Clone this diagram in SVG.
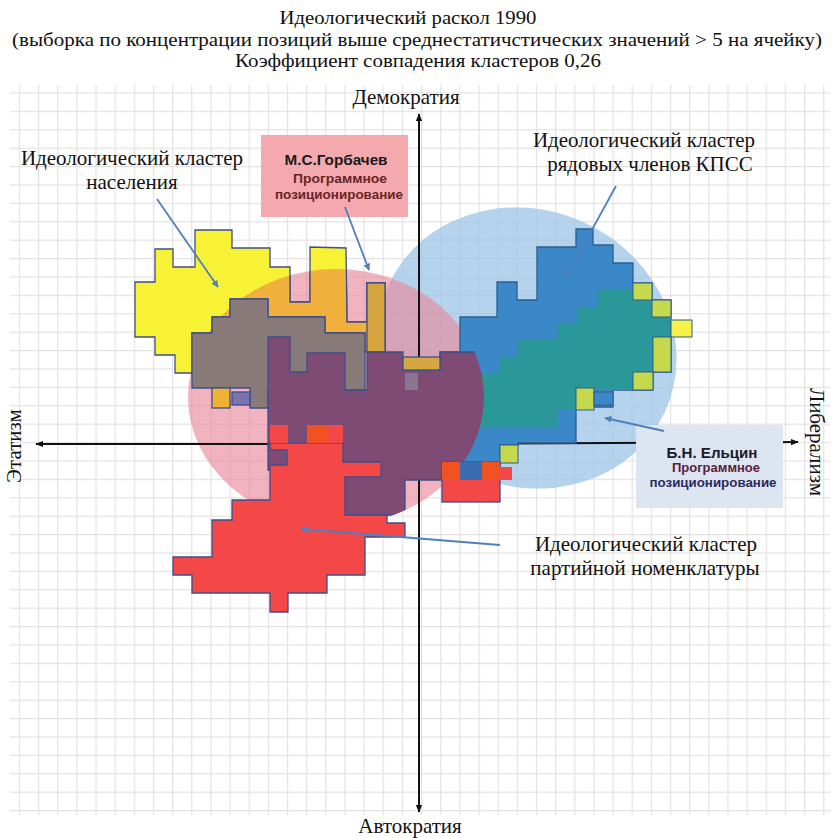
<svg xmlns="http://www.w3.org/2000/svg" width="833" height="838" viewBox="0 0 833 838">
<style>
.t{font-family:"Liberation Serif","Times New Roman",serif;fill:#111;font-size:21px;text-anchor:middle}
.tt{font-family:"Liberation Serif","Times New Roman",serif;fill:#111;font-size:19px;text-anchor:middle}
.cl{stroke:#3f4f86;stroke-width:1.3;stroke-linejoin:miter}
.ax{stroke:#111;stroke-width:2;fill:none}
.ar{stroke:#4f7fbc;stroke-width:1.8;fill:none}
.bx{font-family:"Liberation Sans",Arial,sans-serif;font-weight:bold;text-anchor:middle}
</style>
<defs>
<pattern id="grid" patternUnits="userSpaceOnUse" x="38" y="92.4" width="19.15" height="18.4">
<path d="M0.6 0 V18.4 M0 0.6 H19.15" stroke="#e2e2e2" stroke-width="1.2" fill="none"/>
</pattern>
<clipPath id="pinkc"><ellipse cx="336" cy="397" rx="148" ry="128"/></clipPath>
<marker id="ah" viewBox="0 0 10 10" refX="9" refY="5" markerWidth="7" markerHeight="7" orient="auto" markerUnits="userSpaceOnUse">
<path d="M0 0 L10 5 L0 10 z" fill="#4f7fbc"/>
</marker>
<marker id="ak" viewBox="0 0 10 10" refX="9" refY="5" markerWidth="8" markerHeight="8" orient="auto" markerUnits="userSpaceOnUse">
<path d="M0 1 L10 5 L0 9 z" fill="#111"/>
</marker>
<polygon id="ypoly" points="195,230 232,230 232,248 270,248 270,267 290,267 290,302 310,302 310,247 346,248 347,322 367,322 367,283 385,283 385,352 365,352 365,333 325,333 325,317 268,317 268,299 230,299 230,317 212,317 212,333 192,333 192,373 175,373 175,355 155,355 155,337 135,337 135,282 155,282 155,249 173,249 173,267 195,267"/>
</defs>

<rect width="833" height="838" fill="#fff"/>
<rect x="10" y="85" width="820" height="730" fill="url(#grid)"/>

<g id="titles">
<text class="tt" x="408" y="24" textLength="257" lengthAdjust="spacingAndGlyphs">Идеологический раскол 1990</text>
<text class="tt" x="417" y="46" textLength="810" lengthAdjust="spacingAndGlyphs">(выборка по концентрации позиций выше среднестатичстических значений &gt; 5 на ячейку)</text>
<text class="tt" x="418" y="67" textLength="366" lengthAdjust="spacingAndGlyphs">Коэффициент совпадения кластеров 0,26</text>
</g>

<g id="ellipse-yeltsin">
<ellipse cx="527" cy="348" rx="152" ry="138" transform="rotate(25 527 348)" fill="#9cc4e6" fill-opacity="0.75"/>
</g>
<g id="ellipse-gorbachev">
<ellipse cx="336" cy="397" rx="148" ry="128" fill="#e88a9c" fill-opacity="0.65"/>
</g>

<g id="axes">
<line class="ax" x1="419" y1="810" x2="419" y2="114" marker-end="url(#ak)"/>
<line class="ax" x1="419" y1="118" x2="419" y2="812" marker-end="url(#ak)"/>
<line class="ax" x1="420" y1="444" x2="36" y2="444" marker-end="url(#ak)"/>
<line class="ax" x1="420" y1="444" x2="798" y2="442" marker-end="url(#ak)"/>
</g>

<g id="cluster-population">
<use href="#ypoly" fill="#f8f236" class="cl"/>
<use href="#ypoly" fill="#f1b03c" clip-path="url(#pinkc)" class="cl"/>
<rect x="367" y="283" width="18" height="69" fill="#d7a53f" class="cl"/>
<polygon points="230,299 268,299 268,317 325,317 325,333 365,333 365,390 268,390 268,408 250,408 250,388 192,388 192,333 212,333 212,317 230,317" fill="#877a79" class="cl"/>
<rect x="212" y="388" width="18" height="20" fill="#f0b234" class="cl"/>
<rect x="232" y="392" width="18" height="13" fill="#7a72ae" class="cl"/>
</g>

<g id="cluster-cpsu">
<polygon points="576,229 593,229 593,245 613,245 613,263 633,263 633,283 652,283 652,300 671,300 671,372 653,372 653,390 613,390 613,407 576,407 576,443 518,443 518,445 500,445 500,467 440,467 440,352 460,352 460,317 497,317 497,282 517,282 517,300 537,300 537,247 576,247" fill="#3a88c8" stroke="#2c5d8f" stroke-width="1.3"/>
<polygon points="483,373 500,373 500,357 518,357 518,340 557,340 557,323 577,323 577,307 597,307 597,290 633,290 633,300 652,300 652,317 671,317 671,372 653,372 653,390 577,390 577,410 557,410 557,427 450,427 450,373" fill="#2a9898"/>
<rect x="633" y="283" width="19" height="17" fill="#c6d84c" stroke="#2c5d8f" stroke-width="1"/>
<rect x="652" y="300" width="19" height="17" fill="#c6d84c" stroke="#2c5d8f" stroke-width="1"/>
<rect x="671" y="320" width="21" height="17" fill="#f6f04a" stroke="#2c5d8f" stroke-width="1"/>
<rect x="653" y="337" width="18" height="35" fill="#c6d84c" stroke="#2c5d8f" stroke-width="1"/>
<rect x="633" y="372" width="20" height="18" fill="#c6d84c" stroke="#2c5d8f" stroke-width="1"/>
<rect x="576" y="388" width="18" height="22" fill="#c6d84c" stroke="#2c5d8f" stroke-width="1"/>
<rect x="594" y="392" width="19" height="13" fill="#3a88c8" stroke="#2c5d8f" stroke-width="1"/>
<rect x="500" y="445" width="18" height="18" fill="#c6d84c" stroke="#2c5d8f" stroke-width="1"/>
</g>

<g id="overlap-center">
<polygon points="268,337 290,337 290,372 307,372 307,353 345,353 345,390 367,390 367,352 403,352 403,370 440,370 440,352 500,352 500,480 405,480 405,515 345,515 345,470 268,470" fill="#7d4b74" clip-path="url(#pinkc)" class="cl"/>
<rect x="403" y="357" width="37" height="13" fill="#d6a740" class="cl"/>
<rect x="405" y="373" width="13" height="17" fill="#8a7690"/>
</g>

<g id="cluster-nomenklatura">
<polygon points="270,443 343,443 343,462 381,462 381,477 345,477 345,515 387,515 387,523 405,523 405,537 365,537 365,575 327,575 327,593 288,593 288,612 270,612 270,593 192,593 192,575 173,575 173,557 212,557 212,520 232,520 232,500 270,500 270,465 287,465 287,450 270,450" fill="#f44848" class="cl"/>
<rect x="270" y="425" width="18" height="18" fill="#f44848"/>
<rect x="307" y="425" width="20" height="18" fill="#f05222"/>
<rect x="327" y="425" width="16" height="18" fill="#f44848"/>
<rect x="442" y="462" width="58" height="40" fill="#f44848" class="cl"/>
<rect x="442" y="462" width="18" height="18" fill="#f05222"/>
<rect x="460" y="462" width="22" height="18" fill="#3a6ab0"/>
<rect x="482" y="462" width="18" height="18" fill="#f05222"/>
<rect x="500" y="467" width="12" height="13" fill="#f44848"/>
</g>

<g id="box-gorbachev">
<rect x="261" y="135" width="147" height="82" fill="#f4a9ae"/>
<text class="bx" x="336" y="165" font-size="14" fill="#1a1a1a" textLength="103" lengthAdjust="spacingAndGlyphs">М.С.Горбачев</text>
<text class="bx" x="340" y="183" font-size="12" fill="#6a2424" textLength="94" lengthAdjust="spacingAndGlyphs">Программное</text>
<text class="bx" x="339" y="199" font-size="12" fill="#6a2424" textLength="128" lengthAdjust="spacingAndGlyphs">позиционирование</text>
</g>

<g id="box-yeltsin">
<rect x="636" y="425" width="147" height="83" fill="#dde5f0"/>
<text class="bx" x="712" y="458" font-size="15.5" fill="#1a1a2a" textLength="91" lengthAdjust="spacingAndGlyphs">Б.Н. Ельцин</text>
<text class="bx" x="716" y="472" font-size="12" fill="#5a2040" textLength="88" lengthAdjust="spacingAndGlyphs">Программное</text>
<text class="bx" x="713" y="487" font-size="12" fill="#2a2a60" textLength="127" lengthAdjust="spacingAndGlyphs">позиционирование</text>
</g>

<g id="connectors">
<line class="ar" x1="157" y1="199" x2="218" y2="287" marker-end="url(#ah)"/>
<line class="ar" x1="345" y1="207" x2="369" y2="270" marker-end="url(#ah)"/>
<line class="ar" x1="616" y1="186" x2="566" y2="277" marker-end="url(#ah)"/>
<line class="ar" x1="500" y1="545" x2="301" y2="529" marker-end="url(#ah)"/>
<line class="ar" x1="664" y1="431" x2="605" y2="418" marker-end="url(#ah)"/>
</g>

<g id="labels">
<text class="t" x="406" y="104">Демократия</text>
<text class="t" x="410" y="833">Автократия</text>
<text class="t" transform="translate(21 446) rotate(-90)">Этатизм</text>
<text class="t" transform="translate(810 442) rotate(90)">Либерализм</text>
<text class="t" x="132" y="165">Идеологический кластер</text>
<text class="t" x="132" y="189">населения</text>
<text class="t" x="644" y="147">Идеологический кластер</text>
<text class="t" x="650" y="171">рядовых членов КПСС</text>
<text class="t" x="646" y="551">Идеологический кластер</text>
<text class="t" x="645" y="575">партийной номенклатуры</text>
</g>
</svg>
